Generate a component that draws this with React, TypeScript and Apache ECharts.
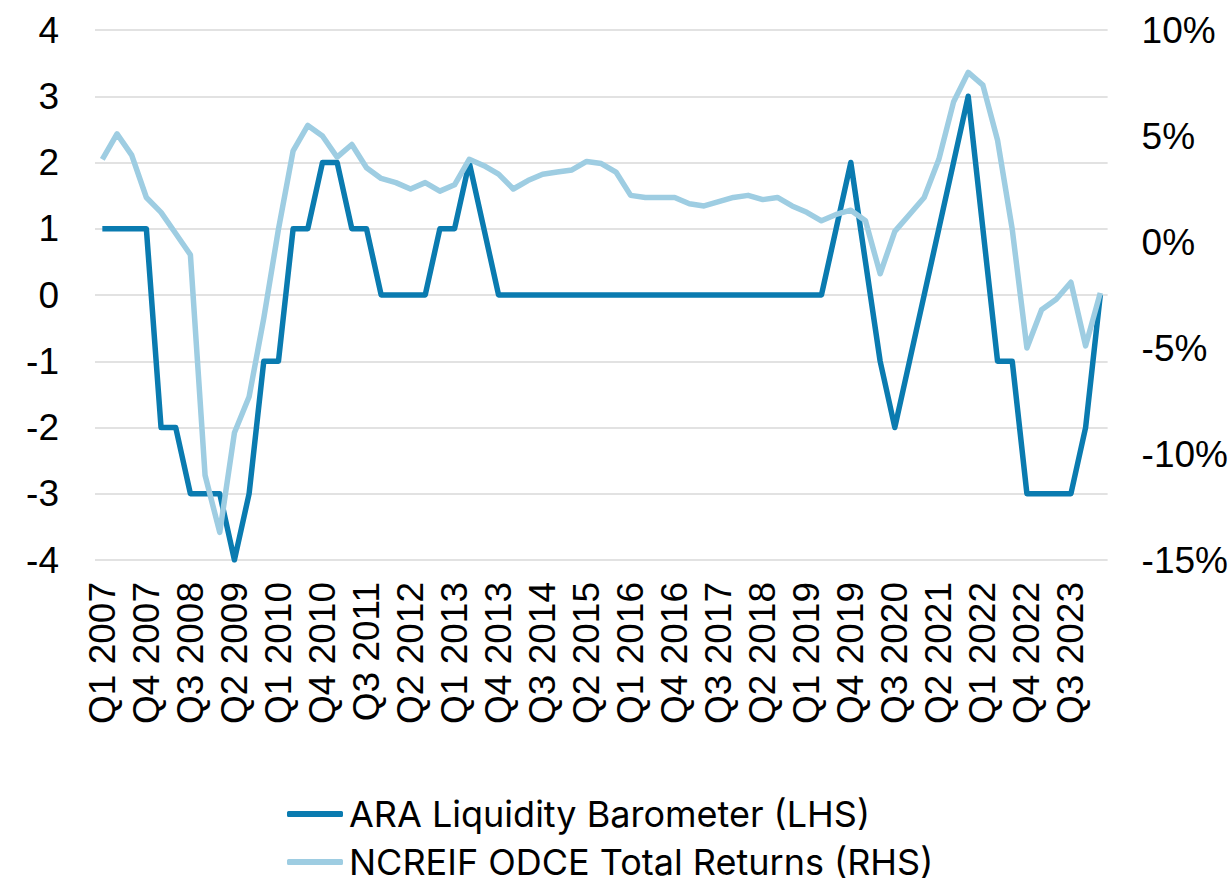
import React, { useEffect, useRef } from "react";
import * as echarts from "echarts";

const quarters: string[] = [
  "Q1 2007", "Q2 2007", "Q3 2007", "Q4 2007",
  "Q1 2008", "Q2 2008", "Q3 2008", "Q4 2008",
  "Q1 2009", "Q2 2009", "Q3 2009", "Q4 2009",
  "Q1 2010", "Q2 2010", "Q3 2010", "Q4 2010",
  "Q1 2011", "Q2 2011", "Q3 2011", "Q4 2011",
  "Q1 2012", "Q2 2012", "Q3 2012", "Q4 2012",
  "Q1 2013", "Q2 2013", "Q3 2013", "Q4 2013",
  "Q1 2014", "Q2 2014", "Q3 2014", "Q4 2014",
  "Q1 2015", "Q2 2015", "Q3 2015", "Q4 2015",
  "Q1 2016", "Q2 2016", "Q3 2016", "Q4 2016",
  "Q1 2017", "Q2 2017", "Q3 2017", "Q4 2017",
  "Q1 2018", "Q2 2018", "Q3 2018", "Q4 2018",
  "Q1 2019", "Q2 2019", "Q3 2019", "Q4 2019",
  "Q1 2020", "Q2 2020", "Q3 2020", "Q4 2020",
  "Q1 2021", "Q2 2021", "Q3 2021", "Q4 2021",
  "Q1 2022", "Q2 2022", "Q3 2022", "Q4 2022",
  "Q1 2023", "Q2 2023", "Q3 2023", "Q4 2023",
  "Q1 2024",
];

// ARA Liquidity Barometer (LHS)
const barometer: number[] = [
  1, 1, 1, 1, -2, -2, -3, -3, -3, -4, -3, -1, -1, 1, 1, 2, 2, 1, 1, 0,
  0, 0, 0, 1, 1, 2, 1, 0, 0, 0, 0, 0, 0, 0, 0, 0, 0, 0, 0, 0,
  0, 0, 0, 0, 0, 0, 0, 0, 0, 0, 1, 2, 0.5, -1, -2, -1, 0, 1, 2, 3,
  1, -1, -1, -3, -3, -3, -3, -2, 0,
];

// NCREIF ODCE Total Returns (RHS, %)
const odce: number[] = [
  3.9, 5.1, 4.1, 2.1, 1.4, 0.4, -0.6, -11.0, -13.7, -9.0,
  -7.3, -3.6, 0.6, 4.3, 5.5, 5.0, 4.0, 4.6, 3.5, 3.0,
  2.8, 2.5, 2.8, 2.4, 2.7, 3.9, 3.6, 3.2, 2.5, 2.9,
  3.2, 3.3, 3.4, 3.8, 3.7, 3.3, 2.2, 2.1, 2.1, 2.1,
  1.8, 1.7, 1.9, 2.1, 2.2, 2.0, 2.1, 1.7, 1.4, 1.0,
  1.3, 1.5, 1.0, -1.5, 0.5, 1.3, 2.1, 3.9, 6.6, 8.0,
  7.4, 4.8, 0.6, -5.0, -3.2, -2.7, -1.9, -4.9, -2.4,
];

const leftTicks = { min: -4, max: 4, interval: 1 };
const rightTicks = { min: -15, max: 10, interval: 5 };

const seriesNames = ["ARA Liquidity Barometer (LHS)", "NCREIF ODCE Total Returns (RHS)"];
const DARK = "#0A7BB0";
const LIGHT = "#9ECDE2";

export default function App() {
  const ref = useRef<HTMLDivElement>(null);

  useEffect(() => {
    document.body.style.margin = "0";
    if (!ref.current) return;
    const chart = echarts.init(ref.current, undefined, { renderer: "svg" });
    const axisFont = { fontFamily: "Liberation Sans", fontSize: 37, color: "#000" };
    const legendBase = {
      orient: "horizontal",
      left: 287,
      padding: 0,
      itemWidth: 56,
      itemHeight: 6,
      itemGap: 10,
      icon: "roundRect",
      textStyle: {
        fontFamily: "Inter",
        fontSize: 36,
        color: "#000",
        lineHeight: 36,
        padding: [0, 0, 0, 1],
      },
    };
    chart.setOption({
      animation: false,
      backgroundColor: "#fff",
      grid: { left: 95, right: 123, top: 30, bottom: 326, containLabel: false },
      legend: [
        { ...legendBase, top: 796, data: [seriesNames[0]] },
        { ...legendBase, top: 844, data: [seriesNames[1]] },
      ],
      xAxis: {
        type: "category",
        data: quarters,
        boundaryGap: true,
        axisLine: { show: false },
        axisTick: { show: false },
        axisLabel: {
          ...axisFont,
          interval: 2,
          rotate: 90,
          margin: 22,
        },
        splitLine: { show: false },
      },
      yAxis: [
        {
          type: "value",
          ...leftTicks,
          axisLine: { show: false },
          axisTick: { show: false },
          axisLabel: { ...axisFont, margin: 36 },
          splitLine: { show: true, lineStyle: { color: "#D9D9D9", width: 1.5 } },
        },
        {
          type: "value",
          ...rightTicks,
          position: "right",
          axisLine: { show: false },
          axisTick: { show: false },
          axisLabel: { ...axisFont, margin: 34, formatter: "{value}%" },
          splitLine: { show: false },
        },
      ],
      series: [
        {
          name: seriesNames[0],
          type: "line",
          data: barometer,
          yAxisIndex: 0,
          symbol: "none",
          lineStyle: { color: DARK, width: 5.5, join: "round" },
          itemStyle: { color: DARK },
        },
        {
          name: seriesNames[1],
          type: "line",
          data: odce,
          yAxisIndex: 1,
          symbol: "none",
          lineStyle: { color: LIGHT, width: 5.5, join: "round" },
          itemStyle: { color: LIGHT },
        },
      ],
    });
    return () => chart.dispose();
  }, []);

  return <div ref={ref} style={{ width: 1231, height: 886 }} />;
}
